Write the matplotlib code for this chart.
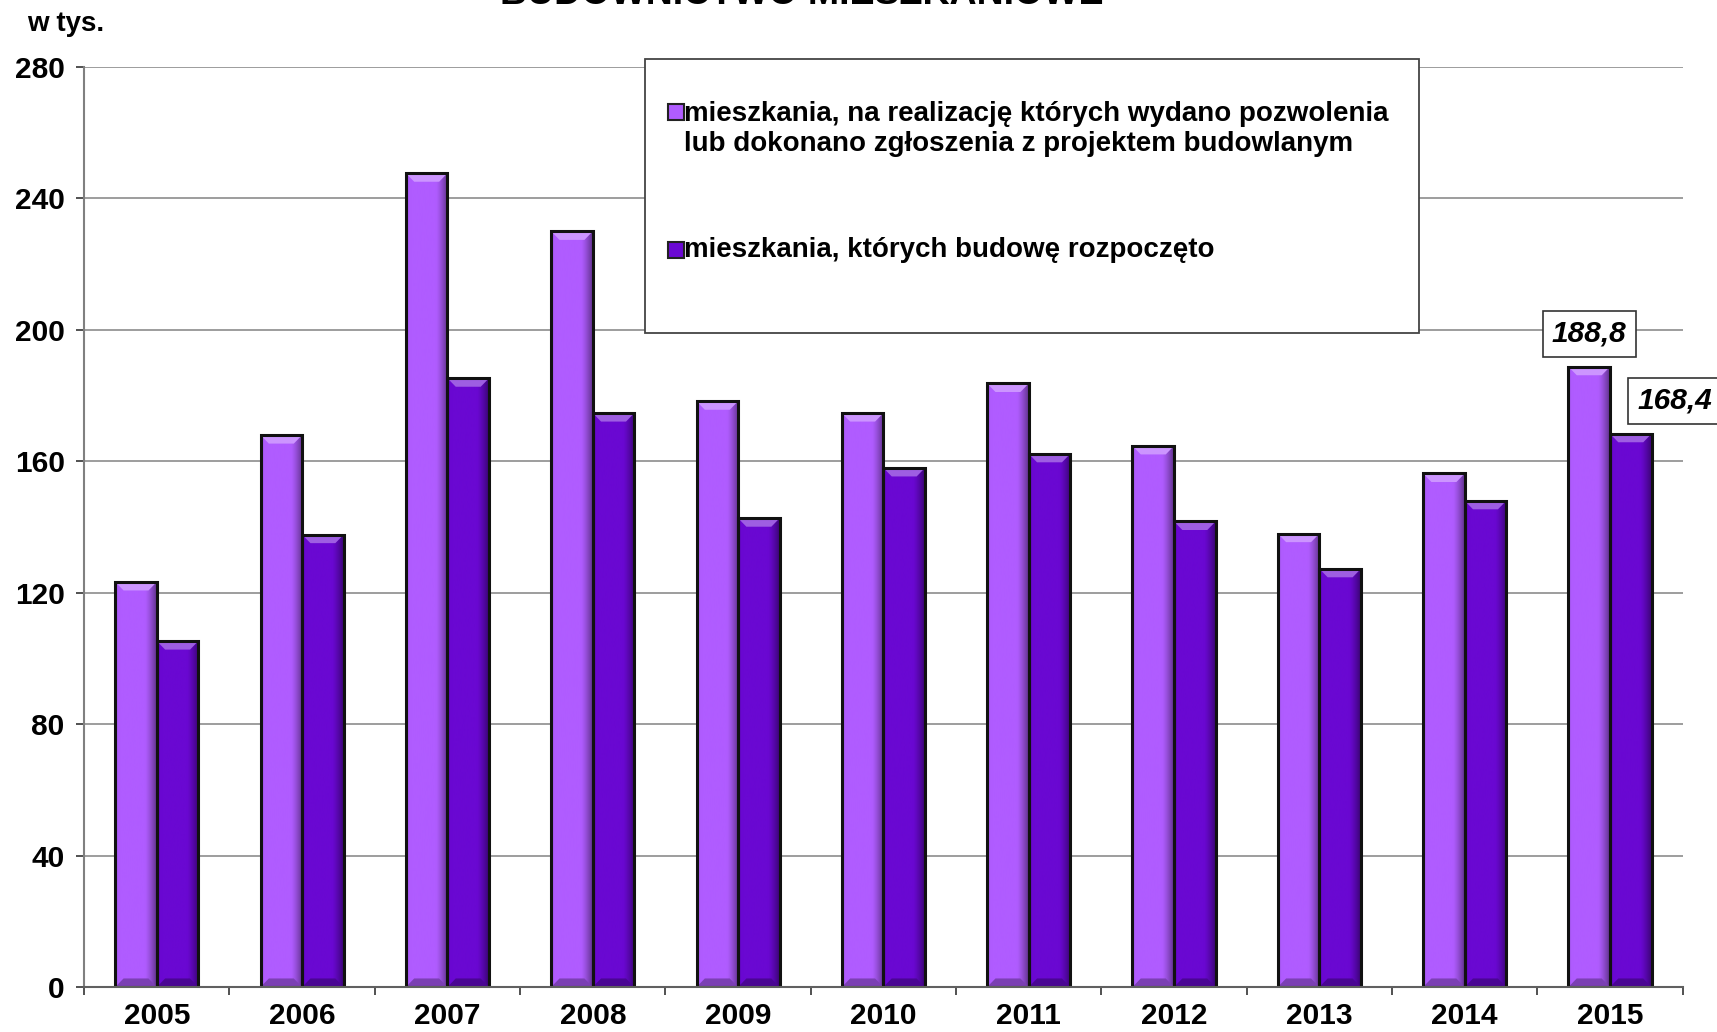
import numpy as np
import matplotlib
matplotlib.use("Agg")
import matplotlib.pyplot as plt
from matplotlib.patches import Polygon, Rectangle
from matplotlib.colors import to_rgb

plt.rcParams['font.family'] = ['Liberation Sans', 'DejaVu Sans']
plt.rcParams['font.weight'] = 'bold'

# dane (w tys.)
years = ['2005', '2006', '2007', '2008', '2009', '2010', '2011', '2012', '2013', '2014', '2015']
permits = [123.3, 168.0, 247.7, 230.0, 178.3, 174.7, 183.7, 164.7, 138.0, 156.3, 188.8]
starts = [105.3, 137.7, 185.3, 174.7, 142.7, 158.0, 162.3, 141.7, 127.3, 148.0, 168.4]
yticks = [0, 40, 80, 120, 160, 200, 240, 280]

label_permits = ('mieszkania, na realizację których wydano pozwolenia\n'
                 'lub dokonano zgłoszenia z projektem budowlanym')
label_starts = 'mieszkania, których budowę rozpoczęto'
title = 'BUDOWNICTWO MIESZKANIOWE'
unit = 'w tys.'

LIGHT = '#B05CFF'
DARK = '#6A08D2'


def shade(c, f):
    r, g, b = to_rgb(c)
    if f >= 0:
        return (r + (1 - r) * f, g + (1 - g) * f, b + (1 - b) * f)
    return (r * (1 + f), g * (1 + f), b * (1 + f))


def bevel_bar(ax, patch, color):
    """Draw a bar with a bevelled 'button' look on top of a plain bar."""
    x0, y0 = patch.get_x(), patch.get_y()
    w, h = patch.get_width(), patch.get_height()
    x1, y1 = x0 + w, y0 + h
    # horizontal shading across the face
    t = np.linspace(0, 1, 64)
    prof = np.where(t < 0.72, 0.0, -0.45 * ((t - 0.72) / 0.28) ** 1.3)
    prof = prof + np.where(t < 0.08, -0.10 * (1 - t / 0.08), 0.0)
    rgb = np.array([shade(color, p) for p in prof])[None, :, :]
    im = ax.imshow(rgb, extent=(x0, x1, y0, y1), aspect='auto',
                   interpolation='bicubic', zorder=2.1)
    im.set_clip_path(patch)
    # bevel at top and bottom
    dx = 0.2 * w
    dy = 2.6
    ax.add_patch(Polygon([(x0, y1), (x1, y1), (x1 - dx, y1 - dy), (x0 + dx, y1 - dy)],
                         closed=True, facecolor=shade(color, 0.35), edgecolor='none',
                         zorder=2.2))
    ax.add_patch(Polygon([(x0, y0), (x1, y0), (x1 - dx, y0 + dy), (x0 + dx, y0 + dy)],
                         closed=True, facecolor=shade(color, -0.3), edgecolor='none',
                         zorder=2.2))
    # outline
    ax.add_patch(Rectangle((x0, y0), w, h, facecolor='none', edgecolor='#111111',
                           linewidth=2.2, zorder=2.3))


fig = plt.figure(figsize=(17.17, 10.32), dpi=100)
ax = fig.add_axes([0.049, 0.0436, 0.931, 0.8914])

x = np.arange(len(years))
bw = 0.286
bars_p = ax.bar(x - bw / 2, permits, width=bw, color=LIGHT, edgecolor='none', zorder=2)
bars_s = ax.bar(x + bw / 2, starts, width=bw, color=DARK, edgecolor='none', zorder=2)
for p in bars_p:
    bevel_bar(ax, p, LIGHT)
for p in bars_s:
    bevel_bar(ax, p, DARK)

ax.set_xlim(-0.5, len(years) - 0.5)
ax.set_ylim(0, 280)
ax.set_yticks(yticks)
ax.set_yticklabels([str(v) for v in yticks], fontsize=21.5, fontweight='bold')
ax.set_xticks(x)
ax.set_xticklabels(years, fontsize=21.5, fontweight='bold')
ax.set_xticks(np.arange(len(years) + 1) - 0.5, minor=True)
ax.tick_params(axis='x', which='major', length=0, pad=11)
ax.tick_params(axis='x', which='minor', length=6, width=1.2, color='#333333')
ax.tick_params(axis='y', length=6, width=1.2, color='#333333', pad=8)
ax.grid(axis='y', color='#8c8c8c', linewidth=1.2, zorder=0)
ax.set_axisbelow(True)
for s in ('top', 'right'):
    ax.spines[s].set_visible(False)
ax.spines['left'].set_color('#808080')
ax.spines['left'].set_linewidth(1.5)
ax.spines['bottom'].set_color('#606060')
ax.spines['bottom'].set_linewidth(1.5)

# wartości dla 2015
last = len(years) - 1
box = dict(boxstyle='square,pad=0.3', facecolor='white', edgecolor='#333333', linewidth=1.2)
ax.annotate(f'{permits[last]:.1f}'.replace('.', ','), (x[last] - bw / 2, permits[last]),
            xytext=(0, 33), textcoords='offset pixels',
            ha='center', va='center', fontsize=21.5, fontweight='bold', style='italic',
            bbox=box, zorder=5, annotation_clip=False)
ax.annotate(f'{starts[last]:.1f}'.replace('.', ','), (x[last] + bw / 2, starts[last]),
            xytext=(44, 33), textcoords='offset pixels',
            ha='center', va='center', fontsize=21.5, fontweight='bold', style='italic',
            bbox=box, zorder=5, annotation_clip=False)

# legenda
ax.add_patch(Rectangle((0.351, 0.711), 0.484, 0.298, transform=ax.transAxes,
                       facecolor='white', edgecolor='#444444', linewidth=1.3,
                       zorder=4, clip_on=False))
for ypos, col in [(0.951, LIGHT), (0.801, DARK)]:
    ax.add_patch(Rectangle((0.365, ypos - 0.0087), 0.010, 0.0174, transform=ax.transAxes,
                           facecolor=col, edgecolor='#222222', linewidth=1.5,
                           zorder=5, clip_on=False))
ax.text(0.3755, 0.933, label_permits, transform=ax.transAxes, fontsize=20,
        fontweight='bold', va='center', ha='left', zorder=5, linespacing=1.2)
ax.text(0.3755, 0.801, label_starts, transform=ax.transAxes, fontsize=20,
        fontweight='bold', va='center', ha='left', zorder=5)

fig.text(0.016, 0.977, unit, fontsize=20, fontweight='bold', va='center', ha='left')
fig.text(0.467, 1 - 4 / 1032, title, fontsize=27, fontweight='bold', va='baseline',
         ha='center')

fig.savefig('out.png', dpi=100)
